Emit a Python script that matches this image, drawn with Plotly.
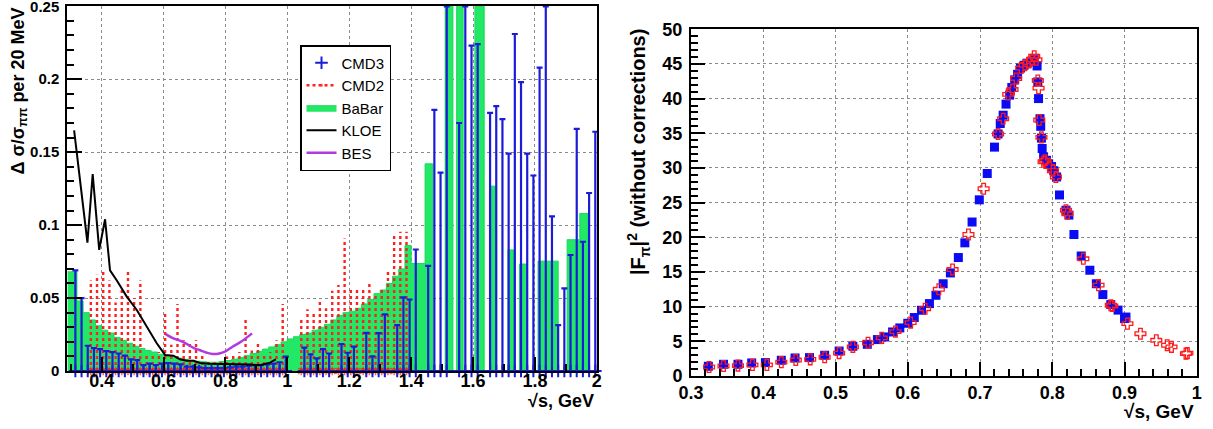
import plotly.graph_objects as go

# ---------------- Left panel data ----------------
cmd3_x = [0.315,0.335,0.355,0.375,0.395,0.415,0.435,0.455,0.475,0.495,0.515,0.535,0.555,0.575,0.595,
          0.615,0.635,0.655,0.675,0.695,0.715,0.735,0.755,0.775,0.795,0.815,0.835,0.855,0.875,0.895,
          0.915,0.935,0.955,0.975,0.995,
          1.055,1.075,1.095,1.115,1.135,1.175,1.195,1.215,1.255,1.275,1.295,1.315,
          1.355,1.375,1.395,1.415,1.455,1.475,1.495,1.515,1.555,1.575,1.595,1.615,
          1.655,1.675,1.695,1.715,1.735,1.755,1.775,1.795,1.815,1.835,1.855,1.875,1.895,1.915,
          1.935,1.955,1.975,1.995]
cmd3_v = [0.069,0.050,0.0173,0.0157,0.015,0.0137,0.013,0.012,0.0105,0.008,0.0075,0.004,0.005,0.004,0.005,
          0.0055,0.005,0.0045,0.003,0.003,0.0025,0.002,0.002,0.002,0.002,0.0025,0.003,0.003,0.0035,0.004,
          0.004,0.0045,0.005,0.006,0.0098,
          0.016,0.0114,0.0087,0.015,0.012,0.0185,0.0125,0.0167,0.0262,0.010,0.026,0.0388,
          0.0315,0.0505,0.049,0.0833,0.072,0.179,0.136,0.25,0.170,0.25,0.223,0.224,
          0.177,0.1815,0.1726,0.149,0.231,0.198,0.149,0.134,0.208,0.25,0.106,0.0315,0.0566,0.0795,
          0.166,0.0886,0.122,0.164]

cmd2_x = [0.365,0.385,0.405,0.425,0.445,0.465,0.485,0.505,0.525,0.545,0.565,0.585,0.605,0.625,0.645,
          0.665,0.685,0.705,0.725,0.745,0.765,0.785,0.805,0.825,0.845,0.865,0.885,0.905,0.925,0.945,
          0.965,0.985,
          1.045,1.065,1.085,1.105,1.125,1.145,1.165,1.185,1.205,1.225,1.245,1.265,1.285,1.305,1.325,
          1.345,1.365,1.385]
cmd2_v = [0.062,0.066,0.070,0.062,0.047,0.056,0.068,0.050,0.062,0.012,0.012,0.013,0.041,0.018,0.046,
          0.021,0.020,0.021,0.012,0.008,0.007,0.008,0.010,0.012,0.013,0.037,0.014,0.020,0.012,0.013,
          0.021,0.046,
          0.0368,0.0423,0.040,0.049,0.043,0.055,0.0589,0.0909,0.056,0.056,0.0575,0.0596,0.053,0.0575,
          0.069,0.093,0.0955,0.0955]

babar_edges = [0.29,0.32,0.34,0.36,0.38,0.40,0.42,0.44,0.46,0.48,0.50,0.52,0.54,0.56,0.58,0.60,
               0.62,0.64,0.66,0.68,0.70,0.72,0.74,0.76,0.78,0.80,0.82,0.84,0.86,0.88,0.90,0.92,
               0.94,0.96,0.98,1.00,1.02,1.04,1.06,1.08,1.10,1.12,1.14,1.16,1.18,1.20,1.22,1.24,
               1.26,1.28,1.30,1.32,1.34,1.36,1.38,1.40,1.445,1.47,1.51,1.535,1.547,1.568,1.606,
               1.636,1.655,1.672,1.713,1.731,1.75,1.774,1.81,1.875,1.904,1.945,1.972,2.0]
babar_v = [0.068,0.048,0.040,0.035,0.031,0.028,0.026,0.023,0.021,0.019,0.017,0.0155,0.014,0.013,0.0115,
           0.0105,0.0095,0.0088,0.008,0.0073,0.0067,0.0063,0.006,0.006,0.0065,0.0072,0.008,0.0092,
           0.0105,0.012,0.0135,0.015,0.0165,0.018,0.020,0.022,0.0235,0.025,0.026,0.028,0.030,0.032,
           0.035,0.038,0.040,0.041,0.043,0.046,0.049,0.053,0.0555,0.060,0.065,0.070,0.086,
           0.0737,0.142,0.0,0.25,0.0,0.25,0.0,0.25,0.0,0.1267,0.0,0.083,0.0,0.0733,0.0,0.0753,
           0.0,0.090,0.108,0.0]

kloe_x = [0.311,0.354,0.371,0.392,0.411,0.427,0.449,0.481,0.513,0.546,0.578,0.605,0.632,0.653,
          0.675,0.697,0.718,0.75,0.80,0.85,0.88,0.91,0.944,0.963]
kloe_v = [0.165,0.088,0.135,0.083,0.104,0.069,0.062,0.051,0.042,0.030,0.019,0.011,0.0105,0.008,
          0.007,0.007,0.0055,0.005,0.005,0.0045,0.0045,0.004,0.0057,0.008]

bes_x = [0.607,0.63,0.662,0.70,0.716,0.74,0.759,0.78,0.80,0.823,0.85,0.886]
bes_v = [0.0253,0.0225,0.020,0.0155,0.0144,0.0125,0.0116,0.012,0.0135,0.0166,0.0200,0.0258]

left_xticks = [0.4,0.6,0.8,1.0,1.2,1.4,1.6,1.8,2.0]
left_xtext = ["0.4","0.6","0.8","1","1.2","1.4","1.6","1.8","2"]
left_yticks = [0,0.05,0.1,0.15,0.2,0.25]
left_ytext = ["0","0.05","0.1","0.15","0.2","0.25"]

# ---------------- Right panel data ----------------
ff_blue_x = [0.324,0.345,0.365,0.384,0.403,0.425,0.444,0.464,0.485,0.505,0.524,0.544,0.558,0.568,0.579,
             0.589,0.600,0.609,0.619,0.630,0.639,0.649,0.659,0.670,0.679,0.689,0.699,0.710,0.720,0.725,
             0.728,0.732,0.736,0.741,0.744,0.748,0.752,0.756,0.761,0.765,0.770,0.775,0.779,0.780,0.781,
             0.783,0.784,0.785,0.786,0.788,0.792,0.795,0.799,0.802,0.806,0.810,0.819,0.823,0.830,0.840,
             0.852,0.861,0.870,0.881,0.891,0.900,0.902]
ff_blue_y = [1.4,1.69,1.69,1.88,1.93,2.27,2.6,2.65,2.99,3.6,4.29,4.57,5.25,5.63,6.35,
             6.93,7.6,8.43,9.48,10.44,11.64,13.3,14.86,17.08,19.2,22.2,25.4,29.2,33.0,34.9,
             36.4,37.6,39.2,40.5,41.6,42.7,43.5,44.4,44.8,45.1,45.3,45.6,44.7,42.4,40.0,
             37.1,36.0,34.3,32.8,31.6,31.1,30.6,30.2,29.6,28.7,26.1,23.9,23.2,20.4,17.3,
             15.25,13.3,11.74,10.3,9.5,8.28,8.5]
ff_red_x = [0.325,0.345,0.365,0.385,0.405,0.425,0.445,0.465,0.485,0.505,0.524,0.545,0.564,0.583,0.604,
            0.624,0.643,0.662,0.684,0.705,0.725,0.732,0.739,0.745,0.750,0.757,0.762,0.768,0.772,0.775,
            0.778,0.780,0.781,0.782,0.785,0.788,0.790,0.796,0.801,0.805,0.819,0.821,0.843,0.864,0.881,
            0.883,0.904,0.922,0.944,0.959,0.965,0.985,0.987]
ff_red_y = [1.3,1.45,1.5,1.6,1.6,2.0,2.3,2.4,2.7,3.3,4.2,4.8,5.5,6.4,7.7,
            9.7,12.5,15.35,20.4,27.0,34.9,37.1,40.6,41.3,42.9,44.4,44.8,45.2,45.6,46.1,
            45.6,42.6,41.5,36.9,34.4,30.9,31.1,30.2,29.6,28.7,23.9,23.4,16.9,13.1,10.2,
            10.1,7.55,6.1,5.15,4.43,4.2,3.23,3.3]

right_xticks = [0.3,0.4,0.5,0.6,0.7,0.8,0.9,1.0]
right_xtext = ["0.3","0.4","0.5","0.6","0.7","0.8","0.9","1"]
right_yticks = [0,5,10,15,20,25,30,35,40,45,50]

# ---------------- Build figure ----------------
FONT = "Liberation Sans"
W, H = 1213, 429
BLUE = "#1c1cd8"
RED = "#ff2020"
fig = go.Figure()

# BaBar step histogram
bb_x = list(babar_edges)
bb_y = list(babar_v) + [babar_v[-1]]
fig.add_trace(go.Scatter(x=bb_x, y=bb_y, mode="lines", line=dict(shape="hv", color="#19d95a", width=1),
                         fill="tozeroy", fillcolor="#22e866", name="BaBar", legendrank=3,
                         xaxis="x", yaxis="y"))

# CMD2 dotted bars with star markers at zero
c2x, c2y, c2s = [], [], []
for xv, vv in zip(cmd2_x, cmd2_v):
    c2x += [xv, xv, None]
    c2y += [0, vv, None]
    c2s += [7, 0, 0]
fig.add_trace(go.Scatter(x=c2x, y=c2y, mode="lines+markers", connectgaps=False,
                         line=dict(color=RED, width=2.4, dash="dot"),
                         marker=dict(symbol="asterisk-open", size=c2s, color=RED, line=dict(color=RED, width=1.5)),
                         name="CMD2", legendrank=2, cliponaxis=False, xaxis="x", yaxis="y"))

# CMD3 bars (error bars from zero)
fig.add_trace(go.Scatter(x=cmd3_x, y=[0]*len(cmd3_x), mode="markers",
                         marker=dict(symbol="cross-thin-open", size=9, color=BLUE, line=dict(color=BLUE, width=2)),
                         error_y=dict(type="data", symmetric=False, array=cmd3_v, arrayminus=[0]*len(cmd3_v),
                                      color=BLUE, thickness=2.2, width=3),
                         error_x=dict(type="constant", value=0.01, color=BLUE, thickness=2, width=0),
                         name="CMD3", legendrank=1, cliponaxis=False, xaxis="x", yaxis="y"))

fig.add_trace(go.Scatter(x=kloe_x, y=kloe_v, mode="lines", line=dict(color="black", width=2),
                         name="KLOE", legendrank=4, xaxis="x", yaxis="y"))
fig.add_trace(go.Scatter(x=bes_x, y=bes_v, mode="lines", line=dict(color="#b03ae0", width=2.5, shape="spline"),
                         name="BES", legendrank=5, xaxis="x", yaxis="y"))

# Right panel
fig.add_trace(go.Scatter(x=ff_blue_x, y=ff_blue_y, mode="markers",
                         marker=dict(symbol="square", size=9, color="#0a0af5"),
                         showlegend=False, xaxis="x2", yaxis="y2"))
fig.add_trace(go.Scatter(x=ff_red_x, y=ff_red_y, mode="markers",
                         marker=dict(symbol="cross-open", size=9, color="#ff1a1a",
                                     line=dict(color="#ff1a1a", width=1.3)),
                         showlegend=False, xaxis="x2", yaxis="y2"))

def px_x(p):
    return min(max(p / W, 0.0), 1.0)

def px_y(p):
    return min(max(1 - p / H, 0.0), 1.0)

grid = dict(showgrid=True, gridcolor="#8a8a8a", gridwidth=1, griddash="dot", zeroline=False,
            automargin=False, ticklabeloverflow="allow")
tickfx = dict(family=FONT, size=18, color="black", weight="bold")
tickfy = dict(family=FONT, size=15, color="black", weight="bold")
tickf2 = dict(family=FONT, size=18, color="black", weight="bold")

fig.update_layout(
    width=W, height=H, margin=dict(l=0, r=0, t=0, b=0, autoexpand=False),
    paper_bgcolor="white", plot_bgcolor="white",
    showlegend=True,
    legend=dict(x=px_x(300), y=px_y(45), xanchor="left", yanchor="top",
                bgcolor="white", bordercolor="black", borderwidth=1.5,
                font=dict(family=FONT, size=15, color="black"),
                tracegroupgap=0, itemwidth=30),
    xaxis=dict(domain=[px_x(67), px_x(597)], range=[0.288, 2.0005], anchor="y",
               tickmode="array", tickvals=left_xticks, ticktext=left_xtext,
               ticks="inside", ticklen=14, tickwidth=1.5, tickcolor="black",
               minor=dict(ticks="inside", ticklen=7, tickmode="linear", tick0=0.3, dtick=0.1,
                          tickcolor="black", showgrid=False),
               showline=True, linecolor="black", linewidth=1.5, mirror=True,
               tickfont=tickfx, ticklabelstandoff=-7, **grid),
    yaxis=dict(domain=[px_y(371), px_y(6)], range=[0, 0.2502], anchor="x",
               tickmode="array", tickvals=left_yticks, ticktext=left_ytext,
               ticks="inside", ticklen=15, tickwidth=1.5, tickcolor="black",
               minor=dict(ticks="inside", ticklen=7, tickmode="linear", tick0=0, dtick=0.01,
                          tickcolor="black", showgrid=False),
               showline=True, linecolor="black", linewidth=1.5, mirror=True,
               tickfont=tickfy, ticklabelstandoff=3, **grid),
    xaxis2=dict(domain=[px_x(691), px_x(1197)], range=[0.3, 1.0003], anchor="y2",
                tickmode="array", tickvals=right_xticks, ticktext=right_xtext,
                ticks="inside", ticklen=14, tickwidth=1.5, tickcolor="black",
                minor=dict(ticks="inside", ticklen=7, tickmode="linear", tick0=0.3, dtick=0.02,
                           tickcolor="black", showgrid=False),
                showline=True, linecolor="black", linewidth=2, mirror=True,
                tickfont=tickf2, ticklabelstandoff=-1, **grid),
    yaxis2=dict(domain=[px_y(376), px_y(29)], range=[0, 50.03], anchor="x2",
                tickmode="array", tickvals=right_yticks,
                ticks="inside", ticklen=14, tickwidth=1.5, tickcolor="black",
                minor=dict(ticks="inside", ticklen=7, tickmode="linear", tick0=0, dtick=1,
                           tickcolor="black", showgrid=False),
                showline=True, linecolor="black", linewidth=2, mirror=True,
                tickfont=tickf2, ticklabelstandoff=3, **grid),
    annotations=[
        dict(text="<b>Δ σ/σ<sub>ππ</sub> per 20 MeV</b>", textangle=-90, xref="paper", yref="paper",
             x=px_x(19), y=px_y(6), xanchor="center", yanchor="top", showarrow=False,
             font=dict(family=FONT, size=18, color="black")),
        dict(text="<b>√s, GeV</b>", xref="paper", yref="paper", x=px_x(596), y=px_y(401),
             xanchor="right", yanchor="middle", showarrow=False,
             font=dict(family=FONT, size=18, color="black")),
        dict(text="<b>|F<sub>π</sub>|<sup>2</sup> (without corrections)</b>", textangle=-90,
             xref="paper", yref="paper", x=px_x(638), y=px_y(27), xanchor="center", yanchor="top",
             showarrow=False, font=dict(family=FONT, size=20, color="black")),
        dict(text="<b>√s, GeV</b>", xref="paper", yref="paper", x=px_x(1196), y=px_y(411),
             xanchor="right", yanchor="middle", showarrow=False,
             font=dict(family=FONT, size=19, color="black")),
    ],
)

fig.write_html("out.html", config={"displayModeBar": False},
               post_script="document.body.style.margin='0px';document.body.style.padding='0px';")
